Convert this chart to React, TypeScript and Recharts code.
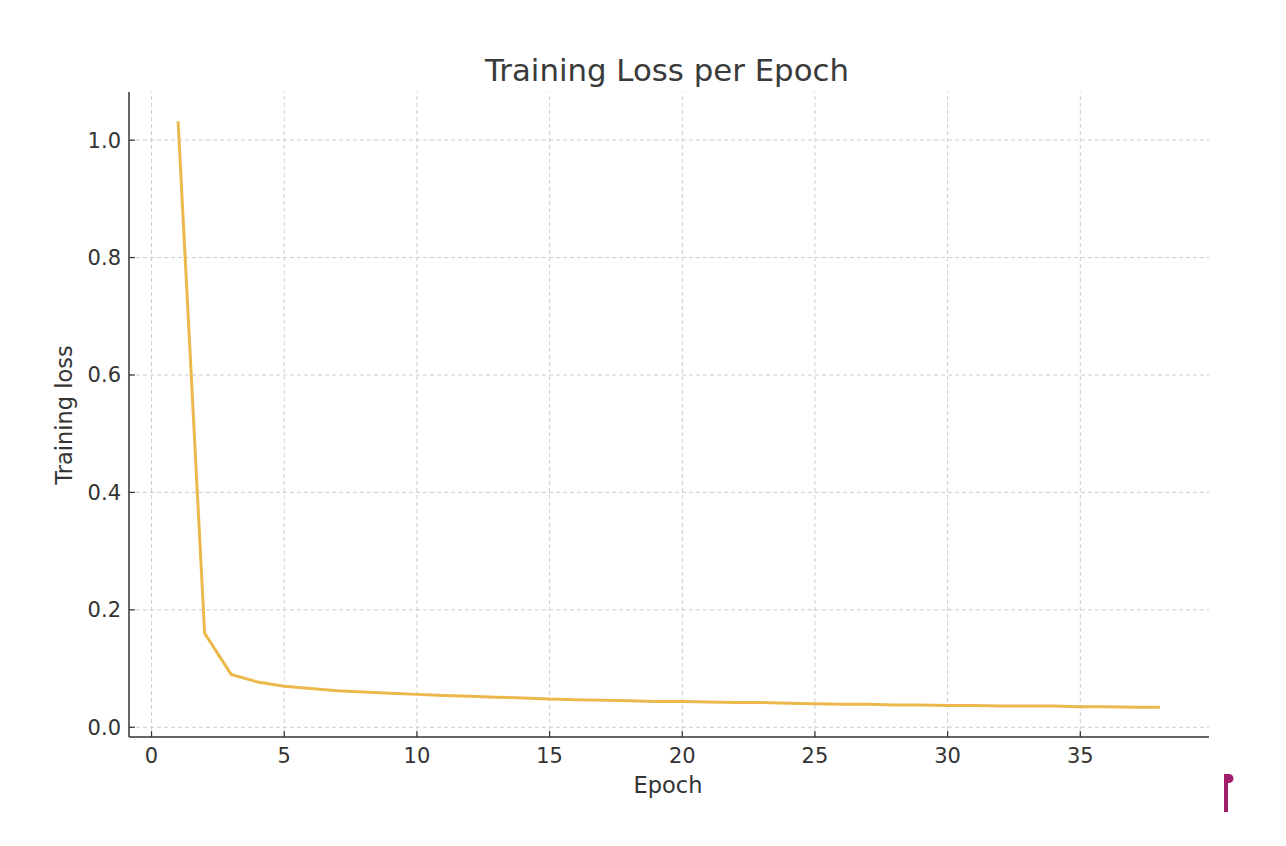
import React from "react";
import { LineChart, Line, XAxis, YAxis, ReferenceLine } from "recharts";

const epochs = [1,2,3,4,5,6,7,8,9,10,11,12,13,14,15,16,17,18,19,20,21,22,23,24,25,26,27,28,29,30,31,32,33,34,35,36,37,38];
const lossValues = [1.032,0.160,0.090,0.077,0.070,0.066,0.062,0.060,0.058,0.056,0.054,0.053,0.051,0.050,0.048,0.047,0.046,0.045,0.044,0.044,0.043,0.042,0.042,0.041,0.040,0.039,0.039,0.038,0.038,0.037,0.037,0.036,0.036,0.036,0.035,0.035,0.034,0.034];
const xTicks = [0,5,10,15,20,25,30,35];
const yTicks = [0,0.2,0.4,0.6,0.8,1.0];

const data = epochs.map((e, i) => ({ epoch: e, loss: lossValues[i] }));

const FONT = "'DejaVu Sans', sans-serif";
const TXT = "#333333";

export default function App() {
  return (
    <div style={{ position: "absolute", left: 0, top: 0, width: 1286, height: 846, background: "#fff" }}>
      <LineChart
        width={1286}
        height={846}
        data={data}
        margin={{ top: 92, right: 77, bottom: 69, left: 49 }}
      >
        {xTicks.map((t) => (
          <ReferenceLine key={"gx" + t} x={t} stroke="#cccccc" strokeDasharray="4 3" strokeWidth={1} />
        ))}
        {yTicks.map((t) => (
          <ReferenceLine key={"gy" + t} y={t} stroke="#cccccc" strokeDasharray="4 3" strokeWidth={1} />
        ))}
        <XAxis
          dataKey="epoch"
          type="number"
          domain={[-0.85, 39.85]}
          allowDataOverflow
          ticks={xTicks}
          interval={0}
          height={40}
          tickSize={-6}
          tickMargin={17}
          axisLine={{ stroke: "#333", strokeWidth: 1.5 }}
          tickLine={{ stroke: "#333", strokeWidth: 1.2 }}
          tick={{ fill: TXT, fontSize: 21, fontFamily: FONT }}
        />
        <YAxis
          type="number"
          domain={[-0.0166, 1.082]}
          allowDataOverflow
          ticks={yTicks}
          interval={0}
          width={80}
          tickSize={-6}
          tickMargin={14}
          tickFormatter={(v: number) => v.toFixed(1)}
          axisLine={{ stroke: "#333", strokeWidth: 1.5 }}
          tickLine={{ stroke: "#333", strokeWidth: 1.2 }}
          tick={{ fill: TXT, fontSize: 21, fontFamily: FONT }}
        />
        <Line
          type="linear"
          dataKey="loss"
          stroke="#ecb84c"
          strokeWidth={3}
          dot={false}
          activeDot={false}
          isAnimationActive={false}
        />
      </LineChart>
      <svg
        width={1286}
        height={846}
        style={{ position: "absolute", left: 0, top: 0, pointerEvents: "none" }}
      >
        <text x={667} y={81} textAnchor="middle" fontFamily={FONT} fontSize={30.8} fill="#3a3a3a">
          Training Loss per Epoch
        </text>
        <text x={668} y={793} textAnchor="middle" fontFamily={FONT} fontSize={22.5} fill={TXT}>
          Epoch
        </text>
        <text
          x={0}
          y={0}
          transform="translate(72 415) rotate(-90)"
          textAnchor="middle"
          fontFamily={FONT}
          fontSize={22.5}
          fill={TXT}
        >
          Training loss
        </text>
        <path d="M1224 774 H1229 A4.5 4.5 0 0 1 1229 783 H1228 V812 H1224 Z" fill="#a31f6b" />
      </svg>
    </div>
  );
}
